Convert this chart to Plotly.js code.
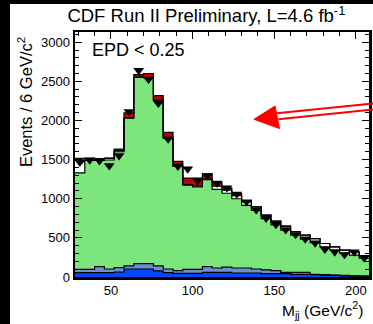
<!DOCTYPE html>
<html>
<head>
<meta charset="utf-8">
<script src="https://cdn.plot.ly/plotly-3.0.1.min.js"></script>
<style>
  html, body { margin: 0; padding: 0; background: #000; width: 373px; height: 324px; overflow: hidden; }
  #chart { position: absolute; left: 10px; top: 4px; width: 363px; height: 320px; }
</style>
</head>
<body>
<div id="chart"></div>
<script>
// Bin layout (GeV/c^2), 6 GeV bins from 28 to 208
const binEdges = [28,34,40,46,52,58,64,70,76,82,88,94,100,106,112,118,124,130,136,142,148,154,160,166,172,178,184,190,196,202,208];
const binCenters = [31,37,43,49,55,61,67,73,79,85,91,97,103,109,115,121,127,133,139,145,151,157,163,169,175,181,187,193,199,205];

// Stacked components (events per bin), bottom to top
const blueVals  = [56,56,56,56,64,102,102,102,77,56,47,47,47,60,60,60,51,51,51,43,43,43,34,34,30,25,20,15,12,10];
const lightBlueVals = [42,42,76,46,55,39,69,69,64,46,34,51,51,72,55,65,64,64,51,47,38,17,26,26,5,5,5,5,3,2];
const greenVals = [1232,1392,1358,1393,1481,1889,2379,2374,2114,1673,1334,1077,1052,1113,1005,945,885,800,748,655,584,540,475,425,405,355,320,285,265,228];
const whiteVals = [175,20,15,20,15,5,5,5,5,5,5,5,10,5,40,40,40,45,45,45,50,50,45,50,50,43,40,38,40,30];
const redVals   = [10,5,5,5,20,61,31,50,58,68,56,84,104,69,50,30,25,15,0,0,0,0,0,0,0,0,0,0,0,0];

// Data points
const dataVals = [1465,1495,1486,1422,1550,2114,2639,2526,2219,1764,1415,1380,1230,1294,1200,1140,1060,961,859,752,672,605,542,487,435,356,320,287,320,245];

// Axis ticks
const yTickVals = [0,500,1000,1500,2000,2500,3000];
const xTickVals = [50,100,150,200];

const FONT = 'Liberation Sans, Arial, Helvetica, sans-serif';

// cumulative levels for outlines
function cumulate(arrs) {
  const out = [];
  let run = new Array(arrs[0].length).fill(0);
  arrs.forEach(a => { run = run.map((v, i) => v + a[i]); out.push(run.slice()); });
  return out;
}
const levels = cumulate([blueVals, lightBlueVals, greenVals, whiteVals, redVals]);

const comps = [
  {vals: blueVals, color: '#0548f5', name: 'blue'},
  {vals: lightBlueVals, color: '#6f8fd3', name: 'lightblue'},
  {vals: greenVals, color: '#7ce67c', name: 'green'},
  {vals: whiteVals, color: '#ffffff', name: 'white'},
  {vals: redVals, color: '#c40000', name: 'red'}
];

const traces = [];
comps.forEach(c => {
  traces.push({
    type: 'bar', x: binCenters, y: c.vals, width: 6,
    marker: {color: c.color, line: {width: 0}},
    name: c.name, showlegend: false, hoverinfo: 'skip'
  });
});
levels.forEach(lv => {
  traces.push({
    type: 'scatter', mode: 'lines', x: binEdges, y: lv.concat([lv[lv.length - 1]]),
    line: {shape: 'hv', color: '#000', width: 1.2},
    showlegend: false, hoverinfo: 'skip'
  });
});
traces.push({
  type: 'scatter', mode: 'markers', x: binCenters, y: dataVals,
  marker: {symbol: 'triangle-down', size: 9.5, color: '#000'},
  showlegend: false, name: 'data'
});

// arrow (decoration) in paper coordinates
const shapes = [
  {type: 'line', xref: 'paper', yref: 'paper', x0: 0.686, y0: 0.668, x1: 1.02, y1: 0.709, line: {color: '#ff0000', width: 2}},
  {type: 'line', xref: 'paper', yref: 'paper', x0: 0.6915, y0: 0.6437, x1: 1.02, y1: 0.6845, line: {color: '#ff0000', width: 2}},
  {type: 'path', xref: 'paper', yref: 'paper', path: 'M0.6088,0.6437 L0.6803,0.698 L0.6956,0.6061 Z', fillcolor: '#ff0000', line: {color: '#ff0000', width: 1}}
];

const layout = {
  width: 363, height: 320,
  margin: {l: 65, r: 4, t: 28, b: 47, pad: 0},
  paper_bgcolor: '#fff', plot_bgcolor: '#fff',
  barmode: 'stack', bargap: 0,
  font: {family: FONT, color: '#000', size: 13},
  title: {
    text: 'CDF Run II Preliminary, L=4.6 fb<sup>-1</sup>',
    font: {family: FONT, size: 18.5, color: '#000'},
    xref: 'container', yref: 'container', x: 0.541, y: 0.9625, xanchor: 'center', yanchor: 'middle'
  },
  xaxis: {
    range: [28, 208], showgrid: false, zeroline: false,
    showline: true, linecolor: '#000', linewidth: 2.5, mirror: true,
    ticks: '', tickvals: xTickVals, ticktext: xTickVals.map(String),
    tickfont: {family: FONT, size: 13, color: '#000'}
  },
  xaxis2: {
    overlaying: 'x', side: 'top', range: [28, 208], showgrid: false, zeroline: false,
    showline: false, showticklabels: false,
    ticks: 'inside', dtick: 50, tick0: 0, ticklen: 7, tickwidth: 1, tickcolor: '#000',
    minor: {ticks: 'inside', dtick: 10, tick0: 0, ticklen: 4, tickwidth: 1, tickcolor: '#000'}
  },
  yaxis: {
    range: [0, 3130], showgrid: false, zeroline: false,
    showline: true, linecolor: '#000', linewidth: 2.5, mirror: 'ticks',
    ticks: 'inside', tickvals: yTickVals, ticktext: yTickVals.map(String),
    ticklen: 7, tickwidth: 1, tickcolor: '#000',
    minor: {ticks: 'inside', dtick: 100, tick0: 0, ticklen: 4, tickwidth: 1, tickcolor: '#000'},
    tickfont: {family: FONT, size: 13, color: '#000'}
  },
  annotations: [
    {text: 'EPD &lt; 0.25', xref: 'paper', yref: 'paper', x: 0.051, y: 0.9245, xanchor: 'left', yanchor: 'middle',
     showarrow: false, font: {family: FONT, size: 18, color: '#000'}},
    {text: 'Events / 6 GeV/c<sup>2</sup>', xref: 'paper', yref: 'paper', x: -0.170, y: 0.714, xanchor: 'center', yanchor: 'middle',
     textangle: -90, showarrow: false, font: {family: FONT, size: 16.5, color: '#000'}},
    {text: 'M<sub>jj</sub> (GeV/c<sup>2</sup>)', xref: 'paper', yref: 'paper', x: 0.845, y: -0.133, xanchor: 'center', yanchor: 'middle',
     showarrow: false, font: {family: FONT, size: 15.5, color: '#000'}}
  ],
  shapes: shapes
};

// a hidden trace on the top axis so its ticks are drawn
traces.push({type: 'scatter', mode: 'markers', x: [binCenters[0]], y: [dataVals[0]], xaxis: 'x2', marker: {opacity: 0}, showlegend: false, hoverinfo: 'skip'});

Plotly.newPlot('chart', traces, layout, {staticPlot: true, displayModeBar: false});
</script>
</body>
</html>
